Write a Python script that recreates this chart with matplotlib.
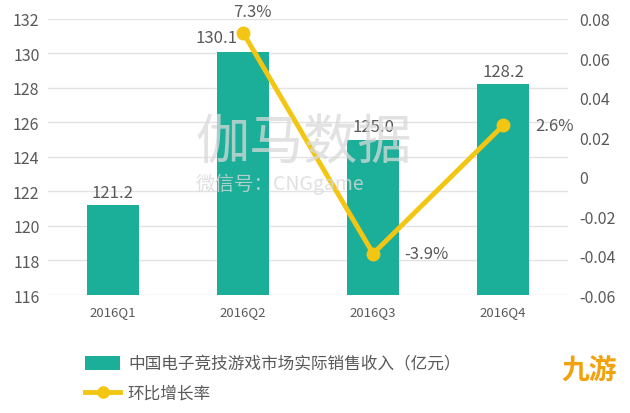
import numpy as np
import matplotlib
matplotlib.use("Agg")
from matplotlib import pyplot as plt
from matplotlib.lines import Line2D
from matplotlib.patches import Patch

plt.rcParams['font.family'] = ['Noto Sans CJK SC', 'DejaVu Sans']

quarters = ['2016Q1', '2016Q2', '2016Q3', '2016Q4']
revenue = [121.2, 130.1, 125.0, 128.2]
growth_q = ['2016Q2', '2016Q3', '2016Q4']
growth = [0.073, -0.039, 0.026]
growth_labels = ['7.3%', '-3.9%', '2.6%']

teal = '#1BAE98'
yellow = '#F3C614'
txt = '#595959'

fig = plt.figure(figsize=(6.3, 4.14), dpi=100)
ax = fig.add_axes([0.076, 0.285, 0.826, 0.667])
ax2 = ax.twinx()

x = np.arange(len(quarters))
ax.bar(x, [v - 116 for v in revenue], bottom=116, width=0.4, color=teal, zorder=2)
ax.set_ylim(116, 132)
ax.set_xlim(-0.5, 3.5)
ax.set_yticks(np.arange(116, 133, 2))
ax.set_xticks(x)
ax.set_xticklabels(quarters, fontsize=9.5, color=txt)
ax.grid(axis='y', color='#E3E3E3', linewidth=1, zorder=0)
ax.set_axisbelow(True)
ax.tick_params(axis='y', labelsize=11.5, colors=txt, length=0, pad=6)
ax.tick_params(axis='x', length=0, pad=7)

# bar labels
offsets = [(0, 0.25), (-0.2, 0.35), (0, 0.25), (0, 0.25)]
for i, v in enumerate(revenue):
    dx, dy = offsets[i]
    ax.text(x[i] + dx, v + dy, f'{v:.1f}', ha='center', va='bottom',
            fontsize=12, color=txt, zorder=4)

gx = [quarters.index(q) for q in growth_q]
ax2.plot(gx, growth, color=yellow, linewidth=3.5, marker='o', markersize=9,
         zorder=5)
ax2.set_ylim(-0.06, 0.08)
ax2.set_yticks([-0.06, -0.04, -0.02, 0, 0.02, 0.04, 0.06, 0.08])
ax2.set_yticklabels(['-0.06', '-0.04', '-0.02', '0', '0.02', '0.04', '0.06', '0.08'])
ax2.tick_params(axis='y', labelsize=11.5, colors=txt, length=0, pad=8)

pct_pos = [(0.07, 0.0105, 'center'), (0.24, 0.0, 'left'), (0.25, 0.0, 'left')]
for xi, g, lab, (dx, dy, ha) in zip(gx, growth, growth_labels, pct_pos):
    ax2.text(xi + dx, g + dy, lab, ha=ha, va='center', fontsize=12, color=txt)

for a in (ax, ax2):
    for s in a.spines.values():
        s.set_visible(False)

# watermark
fig.text(0.31, 0.615, '伽马数据', fontsize=39, color='#D9D9D9', alpha=0.75,
         zorder=0)
fig.text(0.31, 0.54, '微信号：CNGgame', fontsize=14, color='#D9D9D9', alpha=0.8,
         zorder=0)

handles = [Patch(facecolor=teal, edgecolor='none'),
           Line2D([0], [0], color=yellow, linewidth=3.5, marker='o', markersize=8)]
labels = ['中国电子竞技游戏市场实际销售收入（亿元）', '环比增长率']
fig.legend(handles, labels, loc='upper left', bbox_to_anchor=(0.125, 0.155),
           frameon=False, fontsize=12, labelcolor=txt, handlelength=2.1,
           handleheight=0.9, labelspacing=0.75, handletextpad=0.45,
           borderaxespad=0)

fig.text(0.935, 0.085, '九游', fontsize=20, color='#F2A20F', ha='center',
         fontweight='bold')

fig.savefig('out.png', dpi=100, facecolor='white')
